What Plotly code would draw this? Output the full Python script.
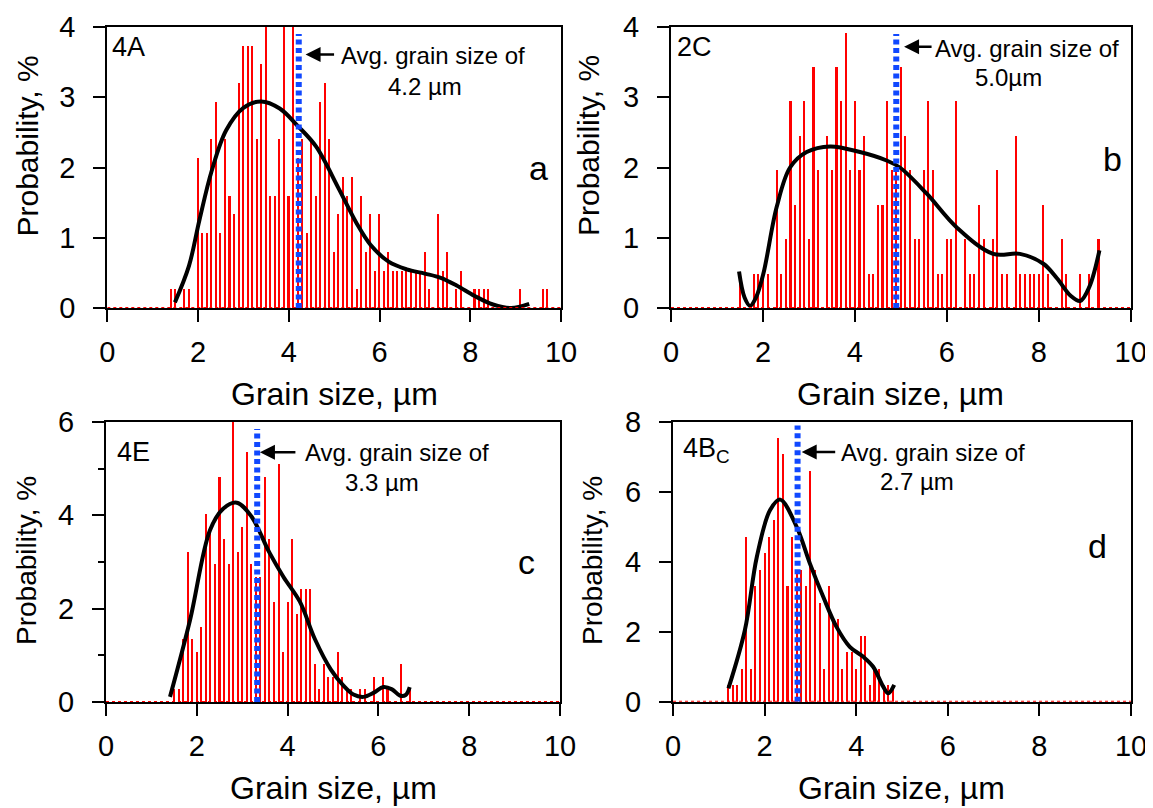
import plotly.graph_objects as go

W, H = 1153, 808
OFF = 8  # the page body margin shifts the figure by this many pixels
FONT = "Liberation Sans, Arial, sans-serif"

# ---- panel a (4A) ----
qa = 0.2667
a_x = [1.4, 1.5, 1.7, 1.8, 2.0, 2.1, 2.2, 2.3, 2.4, 2.5, 2.6, 2.7, 2.8, 2.9, 3.0, 3.1, 3.2, 3.3, 3.4, 3.5,
       3.6, 3.7, 3.8, 3.9, 4.0, 4.1, 4.2, 4.3, 4.4, 4.5, 4.6, 4.7, 4.8, 4.9, 5.0, 5.1, 5.2, 5.3, 5.4, 5.5,
       5.6, 5.7, 5.8, 5.9, 6.0, 6.1, 6.2, 6.3, 6.4, 6.5, 6.6, 6.7, 6.8, 6.9, 7.0, 7.1, 7.3, 7.4, 7.5, 7.7,
       7.8, 8.1, 8.2, 8.3, 8.4, 9.1, 9.6, 9.7]
a_n = [1, 1, 1, 1, 8, 4, 4, 9, 11, 4, 9, 6, 5, 12, 14, 14, 14, 9, 13, 15,
       6, 6, 9, 15, 6, 15, 8, 9, 4, 9, 6, 11, 12, 9, 3, 5, 7, 6, 7, 1,
       6, 3, 5, 2, 5, 2, 3, 2, 2, 2, 2, 2, 2, 2, 3, 1, 5, 2, 3, 1,
       2, 1, 1, 1, 1, 1, 1, 1]
a_fit_x = [1.49, 1.8, 2.03, 2.3, 2.62, 3.0, 3.39, 3.8, 4.2, 4.6, 5.1, 5.5, 5.8, 6.2, 6.6, 7.0, 7.35,
           7.7, 8.1, 8.5, 8.9, 9.3]
a_fit_y = [0.08, 0.6, 1.25, 1.95, 2.53, 2.85, 2.94, 2.84, 2.59, 2.3, 1.7, 1.2, 0.9, 0.66, 0.55, 0.49,
           0.43, 0.32, 0.17, 0.05, 0.0, 0.06]
a_avg = 4.22

# ---- panel b (2C) ----
qb = 0.4902
b_x = [1.5, 1.8, 1.9, 2.0, 2.1, 2.3, 2.4, 2.5, 2.6, 2.7, 2.8, 2.9, 3.0, 3.1, 3.2, 3.4, 3.5, 3.6, 3.7, 3.8,
       3.9, 4.0, 4.1, 4.2, 4.3, 4.4, 4.5, 4.6, 4.7, 4.8, 4.9, 5.0, 5.1, 5.2, 5.3, 5.4, 5.5, 5.6, 5.7, 5.8,
       5.9, 6.0, 6.1, 6.2, 6.4, 6.5, 6.6, 6.7, 6.8, 7.0, 7.1, 7.2, 7.3, 7.5, 7.6, 7.7, 7.8, 7.9, 8.0, 8.1,
       8.2, 8.5, 8.6, 8.9, 9.1, 9.3]
b_n = [1, 1, 1, 1, 1, 4, 1, 2, 6, 3, 5, 6, 2, 7, 4, 5, 4, 7, 6, 8,
       4, 6, 4, 5, 1, 1, 3, 3, 6, 4, 4, 7, 5, 4, 2, 2, 4, 6, 4, 1,
       1, 2, 2, 6, 2, 1, 1, 3, 2, 2, 4, 1, 1, 5, 1, 1, 1, 1, 1, 3,
       1, 2, 1, 1, 1, 2]
b_fit_x = [1.48, 1.6, 1.72, 1.85, 2.01, 2.3, 2.59, 2.95, 3.46, 4.11, 4.69, 4.98, 5.56, 6.21, 7.01, 7.59,
           8.1, 8.4, 8.7, 8.9, 9.1, 9.32]
b_fit_y = [0.52, 0.15, 0.03, 0.15, 0.49, 1.44, 2.0, 2.22, 2.3, 2.22, 2.1, 2.0, 1.63, 1.15, 0.77, 0.77,
           0.63, 0.42, 0.17, 0.1, 0.3, 0.82]
b_avg = 4.9

# ---- panel c (4E) ----
qc = 0.268
c_x = [1.5, 1.6, 1.7, 1.8, 1.9, 2.0, 2.1, 2.2, 2.3, 2.4, 2.5, 2.6, 2.7, 2.8, 2.9, 3.0, 3.1, 3.2, 3.3, 3.4,
       3.5, 3.6, 3.7, 3.8, 3.9, 4.0, 4.1, 4.2, 4.3, 4.4, 4.5, 4.6, 4.7, 4.8, 4.9, 5.0, 5.1, 5.2, 5.3, 5.4,
       5.6, 5.7, 5.9, 6.1, 6.2, 6.5, 6.7]
c_n = [1, 1, 5, 12, 5, 4, 6, 15, 14, 11, 18, 13, 11, 22.4, 12, 14, 20, 11, 10, 10,
       18, 13, 8, 19, 4, 8, 13, 7, 9, 9, 9, 3, 1, 3, 2, 2, 4, 2, 1, 1,
       1, 1, 2, 2, 1, 3, 1]
c_fit_x = [1.41, 1.85, 2.29, 2.58, 2.88, 3.2, 3.6, 3.91, 4.27, 4.6, 4.95, 5.23, 5.45, 5.67, 5.9, 6.11,
           6.3, 6.47, 6.6, 6.69]
c_fit_y = [0.11, 1.75, 3.68, 4.14, 4.27, 3.98, 3.2, 2.68, 2.15, 1.35, 0.7, 0.35, 0.16, 0.11, 0.2, 0.32,
           0.27, 0.14, 0.15, 0.32]
c_avg = 3.33

# ---- panel d (4Bc) ----
qd = 0.4717
d_x = [1.2, 1.3, 1.4, 1.5, 1.6, 1.7, 1.8, 1.9, 2.0, 2.1, 2.2, 2.3, 2.4, 2.5, 2.6, 2.7, 2.8, 2.9, 3.0, 3.1,
       3.2, 3.3, 3.4, 3.5, 3.6, 3.7, 3.8, 3.9, 4.0, 4.1, 4.2, 4.3, 4.4, 4.5, 4.6, 4.7, 4.8]
d_n = [1, 1, 1, 2, 10, 2, 7, 8, 9, 10, 11, 16, 15, 7, 10, 8, 8, 7, 14, 8,
       6, 2, 7, 5, 5, 2, 3, 3, 2, 4, 4, 1, 2, 2, 1, 1, 1]
d_fit_x = [1.21, 1.57, 1.83, 2.12, 2.34, 2.7, 2.99, 3.28, 3.57, 3.86, 4.15, 4.37, 4.59, 4.7, 4.83]
d_fit_y = [0.38, 2.05, 4.14, 5.48, 5.78, 5.0, 3.95, 3.0, 2.14, 1.57, 1.29, 1.0, 0.43, 0.24, 0.48]
d_avg = 2.72

panels = [
    dict(x=a_x, n=a_n, q=qa, fx=a_fit_x, fy=a_fit_y, avg=a_avg, ymax=4, dy=1, minor=False,
         dom=((107.3, 561), (27, 308)), tag="4A", tagpos=(0.06, 3.72), letter="a", letpos=(9.51, 1.99),
         arrow=(4.37, 3.61, 30), line1=("Avg. grain size of", 7.18, 3.59), line2=("4.2 µm", 7.0, 3.16),
         avg_top=3.9, ytitle=(26.5, 146, 30)),
    dict(x=b_x, n=b_n, q=qb, fx=b_fit_x, fy=b_fit_y, avg=b_avg, ymax=4, dy=1, minor=False,
         dom=((671, 1130.7), (27, 308)), tag="2C", tagpos=(0.08, 3.72), letter="b", letpos=(9.61, 2.12),
         arrow=(5.07, 3.72, 29), line1=("Avg. grain size of", 7.75, 3.70), line2=("5.0µm", 7.35, 3.28),
         avg_top=3.9, ytitle=(588, 146, 30)),
    dict(x=c_x, n=c_n, q=qc, fx=c_fit_x, fy=c_fit_y, avg=c_avg, ymax=6, dy=2, minor=True,
         dom=((106, 560), (422, 702)), tag="4E", tagpos=(0.2, 5.35), letter="c", letpos=(9.27, 2.99),
         arrow=(3.39, 5.35, 37), line1=("Avg. grain size of", 6.4, 5.35), line2=("3.3 µm", 6.07, 4.71),
         avg_top=5.85, ytitle=(26, 561, 28)),
    dict(x=d_x, n=d_n, q=qd, fx=d_fit_x, fy=d_fit_y, avg=d_avg, ymax=8, dy=2, minor=False,
         dom=((673, 1131), (422, 701.7)), tag="4B<sub>C</sub>", tagpos=(0.17, 7.19), letter="d",
         letpos=(9.26, 4.45), arrow=(2.81, 7.14, 35), line1=("Avg. grain size of", 5.67, 7.13),
         line2=("2.7 µm", 5.32, 6.31), avg_top=7.9, ytitle=(592, 561, 28)),
]


def px(x):
    return (x - OFF) / W


def py(y):
    return 1 - (y - OFF) / H


fig = go.Figure()
annotations = []
shapes = []

for i, p in enumerate(panels):
    k = "" if i == 0 else str(i + 1)
    xr, yr = "x" + k, "y" + k
    heights = [min(v * p["q"], p["ymax"]) for v in p["n"]]
    fig.add_trace(go.Bar(x=p["x"], y=heights, width=0.045, marker=dict(color="#ff0000", line=dict(width=0)),
                         xaxis=xr, yaxis=yr, showlegend=False))
    fig.add_trace(go.Scatter(x=p["fx"], y=p["fy"], mode="lines", line=dict(color="black", width=4, shape="spline"),
                             xaxis=xr, yaxis=yr, showlegend=False))
    # baseline (dotted red) and average line (dotted blue)
    shapes.append(dict(type="line", xref=xr, yref=yr, x0=0, x1=10, y0=0, y1=0,
                       line=dict(color="#ff0000", width=2, dash="3px,3px")))
    shapes.append(dict(type="line", xref=xr, yref=yr, x0=p["avg"], x1=p["avg"], y0=0, y1=p["avg_top"],
                       line=dict(color="#1048ff", width=6, dash="5px,3.5px")))

    (x0, x1), (ytop, ybot) = p["dom"]
    ax_common = dict(showline=True, linecolor="black", linewidth=2, mirror=True, ticks="outside",
                     ticklen=12, tickwidth=2, tickcolor="black", showgrid=False, zeroline=False,
                     automargin=False, tickfont=dict(family=FONT, size=29, color="black"))
    fig.update_layout(**{
        "xaxis" + k: dict(domain=[px(x0), px(x1)], range=[0, 10], dtick=2, tick0=0, anchor=yr,
                          ticklabelstandoff=5, **ax_common),
        "yaxis" + k: dict(domain=[py(ybot), py(ytop)], range=[0, p["ymax"]], dtick=p["dy"], tick0=0,
                          anchor=xr, ticklabelstandoff=12,
                          minor=dict(dtick=1, ticks="outside", ticklen=6, tickwidth=2, tickcolor="black")
                          if p["minor"] else None, **ax_common),
    })

    # axis titles
    annotations.append(dict(text="Grain size, µm", xref="paper", yref="paper", x=px((x0 + x1) / 2),
                            y=py(ybot + 86), xanchor="center", yanchor="middle", showarrow=False,
                            font=dict(family=FONT, size=32, color="black")))
    tx, ty, ts = p["ytitle"]
    annotations.append(dict(text="Probability, %", xref="paper", yref="paper", x=px(tx), y=py(ty),
                            xanchor="center", yanchor="middle", textangle=-90, showarrow=False,
                            font=dict(family=FONT, size=ts, color="black")))
    # labels inside
    annotations.append(dict(text=p["tag"], xref=xr, yref=yr, x=p["tagpos"][0], y=p["tagpos"][1],
                            xanchor="left", yanchor="middle", showarrow=False,
                            font=dict(family=FONT, size=27, color="black")))
    annotations.append(dict(text=p["letter"], xref=xr, yref=yr, x=p["letpos"][0], y=p["letpos"][1],
                            xanchor="center", yanchor="middle", showarrow=False,
                            font=dict(family=FONT, size=34, color="black")))
    hx, hy, tail = p["arrow"]
    annotations.append(dict(text="", xref=xr, yref=yr, x=hx, y=hy, ax=tail, ay=0, showarrow=True,
                            arrowhead=2, arrowsize=1.2, arrowwidth=2.5, arrowcolor="black", standoff=0))
    for t, lx, ly in (p["line1"], p["line2"]):
        annotations.append(dict(text=t, xref=xr, yref=yr, x=lx, y=ly, xanchor="center", yanchor="middle",
                                showarrow=False, font=dict(family=FONT, size=24, color="black")))

fig.update_layout(width=W, height=H, margin=dict(l=0, r=0, t=0, b=0), plot_bgcolor="white",
                  paper_bgcolor="white", bargap=0, annotations=annotations, shapes=shapes,
                  font=dict(family=FONT, color="black"))

fig.write_html("out.html")
